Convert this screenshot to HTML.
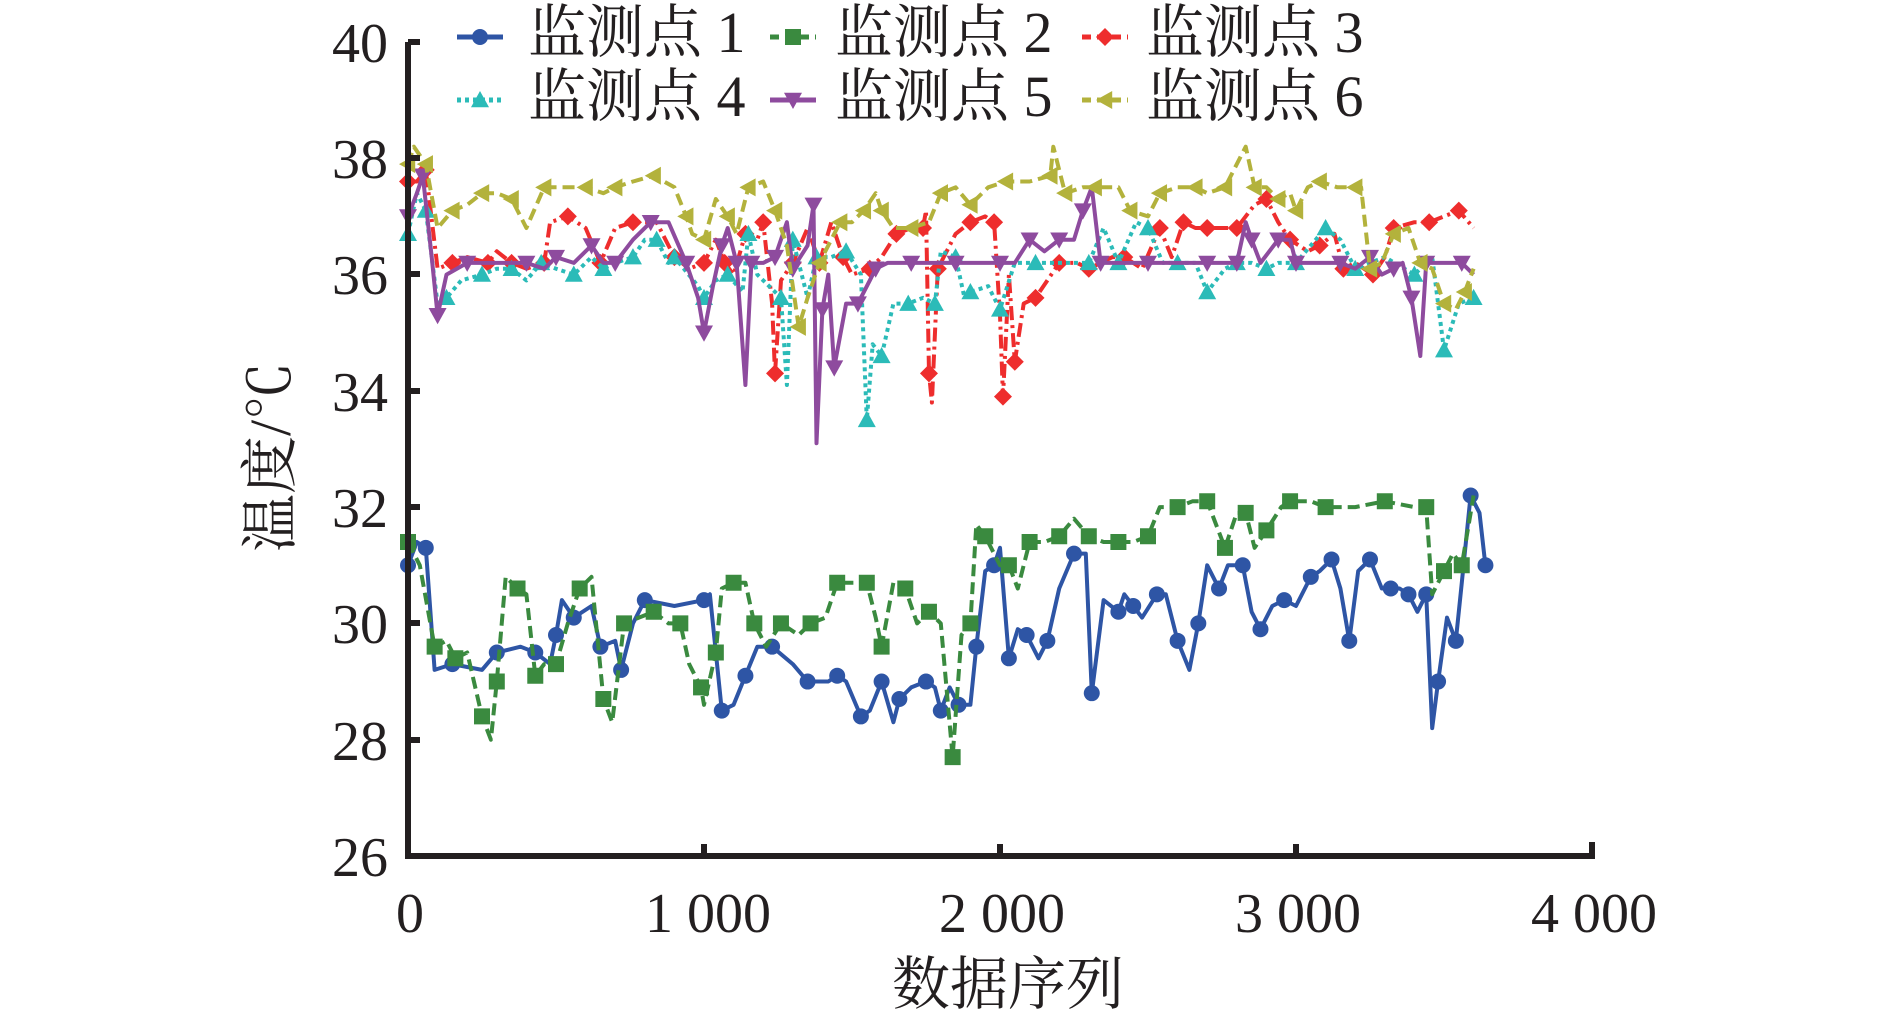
<!DOCTYPE html>
<html><head><meta charset="utf-8"><style>
html,body{margin:0;padding:0;background:#fff;}
svg{display:block}
text{font-family:"Liberation Serif","Noto Serif CJK SC",serif;fill:#231f20}
</style></head><body>
<svg id="s" width="1890" height="1017" viewBox="0 0 1890 1017" xmlns="http://www.w3.org/2000/svg">
<g font-size="56" text-anchor="end">
<text x="388" y="62">40</text><text x="388" y="178">38</text><text x="388" y="294">36</text>
<text x="388" y="411">34</text><text x="388" y="527">32</text><text x="388" y="643">30</text>
<text x="388" y="760">28</text><text x="388" y="876">26</text>
</g>
<g font-size="56" text-anchor="middle">
<text x="410" y="932">0</text><text x="708" y="932">1 000</text><text x="1002" y="932">2 000</text>
<text x="1298" y="932">3 000</text><text x="1594" y="932">4 000</text>
</g>
<text x="1008" y="1004" font-size="58" text-anchor="middle">数据序列</text>
<text transform="translate(290,457) rotate(-90)" font-size="58" text-anchor="middle">温度/℃</text>
<g id="plot"></g>
<g stroke="#231f20" stroke-width="6" fill="none">
<path d="M408,42 V856 H1592 V842"/>
<path d="M408,42 H420 M408,158 H420 M408,274 H420 M408,391 H420 M408,507 H420 M408,623 H420 M408,740 H420"/>
<path d="M704,856 V844 M1000,856 V844 M1296,856 V844"/>
</g>
<g id="leg"></g>
<g font-size="58">
<text x="528" y="52">监测点 1</text><text x="835" y="52">监测点 2</text><text x="1146" y="52">监测点 3</text>
<text x="528" y="116">监测点 4</text><text x="835" y="116">监测点 5</text><text x="1146" y="116">监测点 6</text>
</g>
</svg>
<script>
const X=v=>408+v*0.296, Y=t=>42+(40-t)*58.14;
function P(s){return s.trim().split(/\s*,\s*/).map(p=>p.split(':').map(Number));}
const S=[
{c:'#2e55a5',d:'',m:'o',p:P(`0:31.0,30:31.4,60:31.3,90:29.2,150:29.3,250:29.2,300:29.5,380:29.6,430:29.5,480:29.3,500:29.8,520:30.4,560:30.1,620:30.3,650:29.6,700:29.7,720:29.2,760:30.0,800:30.4,900:30.3,1000:30.4,1020:30.5,1060:28.5,1100:28.6,1140:29.1,1180:29.6,1230:29.6,1300:29.3,1350:29.0,1420:29.0,1450:29.1,1480:29.0,1530:28.4,1560:28.5,1600:29.0,1640:28.3,1660:28.7,1700:28.9,1750:29.0,1780:28.9,1800:28.5,1830:28.9,1860:28.6,1900:28.6,1920:29.6,1950:30.9,1980:31.0,2000:31.3,2030:29.4,2060:29.9,2090:29.8,2130:29.4,2160:29.7,2200:30.6,2250:31.2,2290:31.2,2310:28.8,2350:30.4,2400:30.2,2420:30.5,2450:30.3,2480:30.1,2530:30.5,2560:30.5,2600:29.7,2640:29.2,2670:30.0,2700:31.0,2740:30.6,2770:31.0,2820:31.0,2850:30.2,2880:29.9,2920:30.3,2960:30.4,3000:30.3,3050:30.8,3080:30.9,3120:31.1,3150:30.6,3180:29.7,3210:30.9,3250:31.1,3290:30.6,3320:30.6,3350:30.6,3380:30.5,3410:30.2,3440:30.5,3460:28.2,3480:29.0,3510:30.1,3540:29.7,3560:30.7,3590:32.2,3620:31.9,3640:31.0`)},
{c:'#3a8a3f',d:'12 6',m:'s',p:P(`0:31.4,40:31.0,90:29.6,130:29.7,160:29.4,200:29.5,250:28.4,280:28.0,300:29.0,330:30.8,370:30.6,400:30.5,430:29.1,460:29.3,500:29.3,540:30.0,580:30.6,620:30.8,660:28.7,690:28.3,730:30.0,780:30.1,830:30.2,880:30.0,920:30.0,950:29.3,990:28.9,1000:28.6,1040:29.5,1060:30.6,1100:30.7,1140:30.7,1170:30.0,1210:29.6,1260:30.0,1320:29.8,1360:30.0,1410:30.1,1450:30.7,1500:30.7,1550:30.7,1580:30.1,1600:29.6,1640:30.7,1680:30.6,1720:30.0,1760:30.2,1800:30.0,1840:27.7,1870:29.8,1900:30.0,1920:31.7,1950:31.5,2000:31.0,2030:31.0,2060:30.6,2100:31.4,2150:31.4,2200:31.5,2250:31.8,2300:31.5,2350:31.4,2400:31.4,2450:31.4,2500:31.5,2540:32.0,2600:32.0,2650:32.1,2700:32.1,2730:31.7,2760:31.3,2800:31.9,2830:31.9,2860:31.3,2900:31.6,2950:32.0,2980:32.1,3050:32.1,3100:32.0,3200:32.0,3300:32.1,3400:32.0,3440:32.0,3460:30.5,3500:30.9,3530:31.2,3560:31.0,3600:32.2`)},
{c:'#ee2d2d',d:'14 5 3 5',m:'d',p:P(`0:37.6,30:37.6,60:37.8,100:36.1,150:36.2,200:36.3,270:36.2,300:36.4,350:36.2,400:36.1,460:36.2,480:36.9,540:37.0,600:36.8,650:36.2,700:36.8,760:36.9,840:36.9,900:36.3,950:36.1,1000:36.2,1040:36.6,1070:36.2,1100:36.0,1140:36.7,1180:36.6,1200:36.9,1230:35.5,1240:34.3,1260:35.9,1300:36.2,1350:36.8,1390:36.2,1430:36.9,1470:36.3,1500:36.0,1560:36.1,1600:36.3,1650:36.7,1700:36.8,1740:36.8,1750:37.1,1760:34.3,1770:33.8,1790:36.1,1850:36.7,1900:36.9,1950:37.0,1980:36.9,2000:35.3,2010:33.9,2030:36.0,2050:34.5,2080:35.5,2120:35.6,2160:35.9,2200:36.2,2260:36.2,2300:36.1,2380:36.3,2420:36.3,2480:36.1,2540:36.8,2580:36.3,2620:36.9,2660:36.8,2700:36.8,2760:36.8,2800:36.8,2860:37.2,2900:37.3,2940:36.9,2980:36.6,3040:36.4,3080:36.5,3130:36.7,3160:36.1,3200:36.2,3260:36.0,3300:36.3,3330:36.8,3400:36.9,3450:36.9,3500:37.0,3550:37.1,3600:36.8`)},
{c:'#2bbbb8',d:'4 4',m:'u',p:P(`0:36.7,30:37.4,60:37.1,100:35.5,130:35.6,180:35.9,250:36.0,300:36.1,350:36.1,400:35.9,450:36.2,500:36.1,560:36.0,620:36.3,660:36.1,700:36.2,760:36.3,800:36.6,840:36.6,880:36.2,900:36.3,980:35.8,1000:35.6,1040:35.9,1080:36.0,1130:35.7,1150:36.7,1180:36.0,1260:35.6,1280:34.1,1300:36.6,1350:35.6,1380:36.3,1430:36.3,1480:36.4,1530:36.0,1550:33.5,1570:34.8,1600:34.6,1640:35.5,1690:35.5,1740:35.6,1780:35.5,1800:36.4,1850:36.3,1880:35.6,1900:35.7,1960:35.8,2000:35.4,2050:36.2,2120:36.2,2200:36.2,2300:36.2,2350:36.8,2400:36.2,2460:36.9,2500:36.8,2550:36.2,2600:36.2,2660:36.2,2700:35.7,2760:36.1,2800:36.2,2850:36.2,2900:36.1,2940:36.2,3000:36.2,3050:36.5,3100:36.8,3150:36.6,3200:36.1,3300:36.3,3400:36.0,3460:36.3,3500:34.7,3550:35.5,3600:35.6`)},
{c:'#8e4b9e',d:'',m:'v',p:P(`0:37.0,30:37.4,50:37.7,80:36.3,100:35.3,130:36.0,200:36.2,300:36.2,400:36.2,460:36.1,500:36.3,560:36.2,620:36.5,660:36.2,700:36.2,760:36.6,820:36.9,880:36.9,940:36.2,980:35.6,1000:35.0,1030:35.8,1060:36.5,1080:36.8,1110:36.2,1140:34.1,1160:36.2,1200:36.2,1240:36.3,1280:36.9,1300:36.1,1350:36.5,1370:37.2,1380:33.1,1400:35.4,1420:36.0,1440:34.4,1480:35.5,1520:35.5,1560:35.9,1580:36.1,1620:36.2,1700:36.2,1800:36.2,1850:36.2,1900:36.2,2000:36.2,2050:36.2,2100:36.6,2150:36.4,2200:36.6,2250:36.6,2280:37.1,2310:37.5,2340:36.2,2400:36.2,2500:36.2,2600:36.2,2700:36.2,2760:36.2,2800:36.2,2830:36.9,2850:36.6,2880:36.2,2940:36.6,2980:36.6,3000:36.2,3100:36.2,3150:36.2,3200:36.1,3250:36.3,3290:36.0,3330:36.1,3360:36.2,3390:35.6,3420:34.6,3440:36.2,3500:36.2,3560:36.2,3600:36.0`)},
{c:'#b3b23c',d:'12 6',m:'l',p:P(`0:37.9,20:38.2,60:37.9,100:36.8,150:37.1,200:37.2,250:37.4,300:37.4,350:37.3,400:36.8,460:37.5,530:37.5,600:37.5,660:37.4,700:37.5,760:37.6,830:37.7,900:37.5,940:37.0,960:36.7,1000:36.6,1040:37.3,1080:37.0,1110:36.7,1150:37.5,1200:37.6,1240:37.1,1280:36.5,1320:35.1,1350:35.6,1390:36.2,1420:36.5,1460:36.9,1500:36.9,1540:37.1,1580:37.4,1600:37.1,1640:36.8,1700:36.8,1760:36.9,1800:37.4,1850:37.5,1900:37.2,1960:37.5,2020:37.6,2100:37.6,2170:37.7,2180:38.2,2220:37.4,2280:37.5,2320:37.5,2400:37.5,2440:37.1,2500:37.0,2540:37.4,2600:37.5,2660:37.5,2700:37.4,2760:37.5,2830:38.2,2860:37.5,2900:37.5,2940:37.3,2980:37.4,3000:37.1,3040:37.5,3080:37.6,3140:37.5,3200:37.5,3220:37.5,3250:36.1,3290:36.2,3330:36.7,3380:36.8,3420:36.2,3460:36.1,3500:35.5,3540:35.4,3570:35.7,3600:36.1`)}
];
const NS='http://www.w3.org/2000/svg';
function mk(m,x,y,c){const r=9;let e;
 if(m=='o'){e=document.createElementNS(NS,'circle');e.setAttribute('cx',x);e.setAttribute('cy',y);e.setAttribute('r',8);}
 else{e=document.createElementNS(NS,'polygon');let pts;
  if(m=='s')pts=[[x-8,y-8],[x+8,y-8],[x+8,y+8],[x-8,y+8]];
  if(m=='d')pts=[[x,y-r],[x+r,y],[x,y+r],[x-r,y]];
  if(m=='u')pts=[[x,y-r],[x+r,y+r*0.8],[x-r,y+r*0.8]];
  if(m=='v')pts=[[x,y+r],[x+r,y-r*0.8],[x-r,y-r*0.8]];
  if(m=='l')pts=[[x-r,y],[x+r*0.8,y-r],[x+r*0.8,y+r]];
  e.setAttribute('points',pts.map(p=>p.join(',')).join(' '));}
 e.setAttribute('fill',c);return e;}
const g=document.getElementById('plot'),lg=document.getElementById('leg');
S.forEach(s=>{const pa=document.createElementNS(NS,'path');
 pa.setAttribute('d','M'+s.p.map(p=>X(p[0]).toFixed(1)+','+Y(p[1]).toFixed(1)).join(' L'));
 pa.setAttribute('fill','none');pa.setAttribute('stroke',s.c);pa.setAttribute('stroke-width',4);
 pa.setAttribute('stroke-linejoin','round');if(s.d)pa.setAttribute('stroke-dasharray',s.d);g.appendChild(pa);
 s.p.forEach((p,i)=>{if(i%2==0)g.appendChild(mk(s.m,X(p[0]),Y(p[1]),s.c));});});
const L=[[457,37],[770,37],[1082,37],[457,100],[770,100],[1082,100]];
S.forEach((s,i)=>{const [x,y]=L[i];const l=document.createElementNS(NS,'path');
 l.setAttribute('d',`M${x},${y} H${x+46}`);l.setAttribute('stroke',s.c);l.setAttribute('stroke-width',5);
 if(s.d)l.setAttribute('stroke-dasharray',s.d=='4 4'?'4 4':'9 6');lg.appendChild(l);lg.appendChild(mk(s.m,x+23,y,s.c));});
</script>
</body></html>
